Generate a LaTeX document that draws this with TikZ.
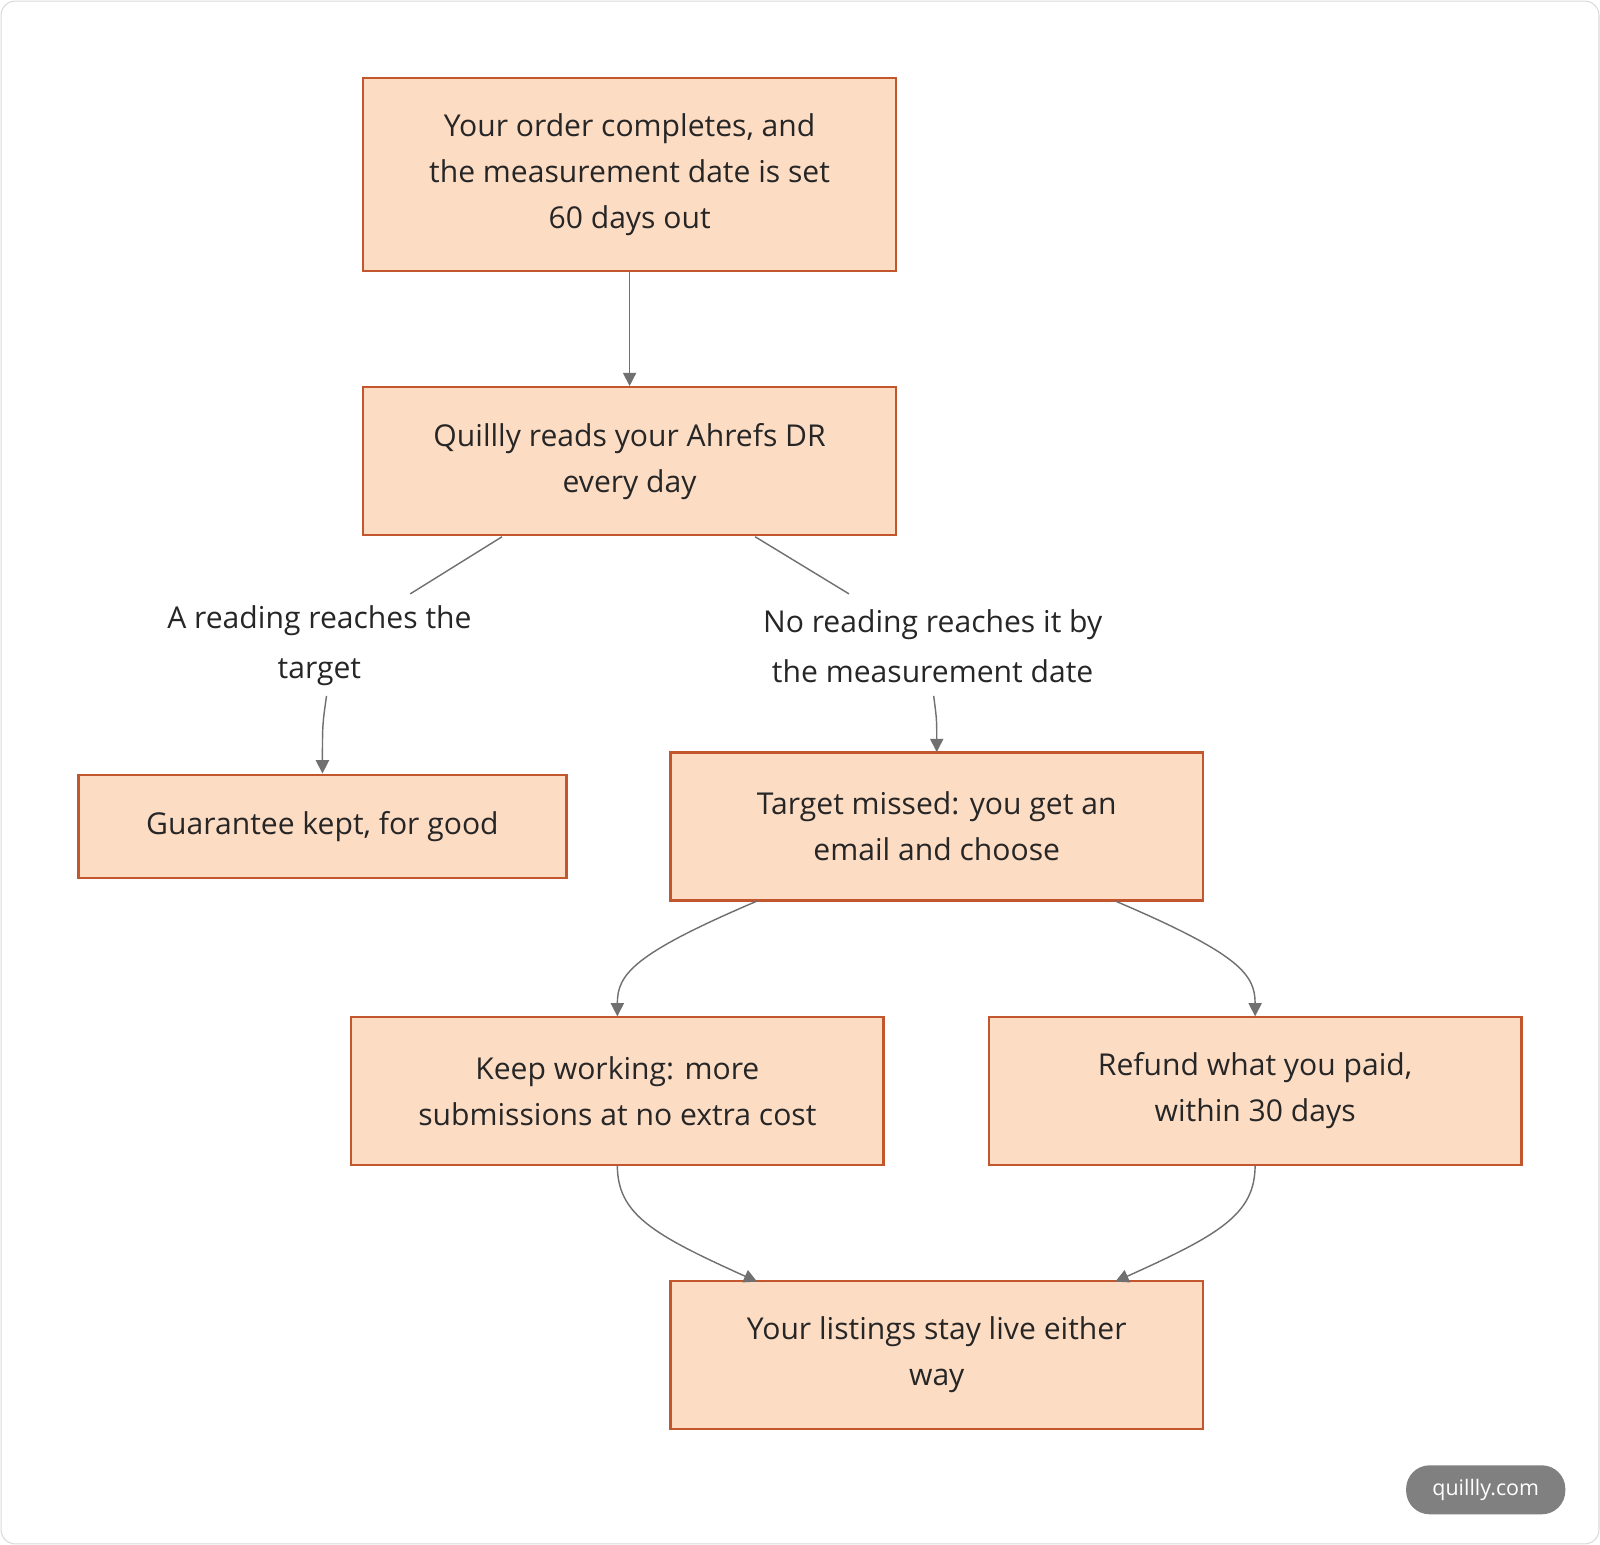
\documentclass[tikz,border=0pt]{standalone}
\usepackage{fontspec}
\setmainfont{Open Sans}
\usetikzlibrary{arrows.meta}
\definecolor{boxfill}{HTML}{FDDCC4}
\definecolor{boxline}{HTML}{C2562E}
\definecolor{edge}{HTML}{707070}
\begin{document}
\begin{tikzpicture}[x=1pt,y=-1pt,
  box/.style={draw=boxline,line width=2.4pt,fill=boxfill,minimum width=522pt,align=center,font=\fontsize{29.5}{45}\selectfont,text=black!85},
  lbl/.style={align=center,font=\fontsize{29.5}{49}\selectfont,text=black!85},
  con/.style={draw=edge,line width=1.4pt},
  arr/.style={con,-{Triangle[length=13pt,width=13pt]}}]
\useasboundingbox (0,0) rectangle (1568,1514);
\draw[black!15,line width=1pt,rounded corners=14pt] (1,1) rectangle (1567,1513);
\node[box,minimum height=189pt] (a) at (617,171) {Your order completes, and\\the measurement date is set\\60 days out};
\node[box,minimum height=145pt] (b) at (617,452) {Quillly reads your Ahrefs DR\\every day};
\node[lbl] (l1) at (313,633) {A reading reaches the\\target};
\node[lbl] (l2) at (914,633) {No reading reaches it by\\the measurement date};
\node[box,minimum width=478pt,minimum height=101pt] (c) at (316,810) {Guarantee kept, for good};
\node[box,minimum height=145pt] (d) at (918,810) {Target missed: you get an\\email and choose};
\node[box,minimum height=145pt] (e) at (605,1069) {Keep working: more\\submissions at no extra cost};
\node[box,minimum height=145pt] (f) at (1230,1069) {Refund what you paid,\\within 30 days};
\node[box,minimum height=145pt] (g) at (918,1328) {Your listings stay live either\\way};
\draw[arr] (a) -- (b);
\draw[con] (492,526) -- (402,582);
\draw[con] (740,526) -- (832,582);
\draw[arr] (320,682) .. controls (316,710) .. (316,758);
\draw[arr] (915,682) .. controls (918,705) .. (918,737);
\draw[arr] (742,883) .. controls (620,935) and (605,955) .. (605,996);
\draw[arr] (1093,883) .. controls (1215,935) and (1230,955) .. (1230,996);
\draw[arr] (605,1142) .. controls (605,1190) and (640,1210) .. (742,1256);
\draw[arr] (1230,1142) .. controls (1230,1190) and (1195,1210) .. (1093,1256);
\node[fill=black!50,rounded corners=23pt,minimum width=156pt,minimum height=48pt,text=white,font=\fontsize{21}{24}\selectfont] (w) at (1456,1460) {quillly.com};
\end{tikzpicture}
\end{document}
